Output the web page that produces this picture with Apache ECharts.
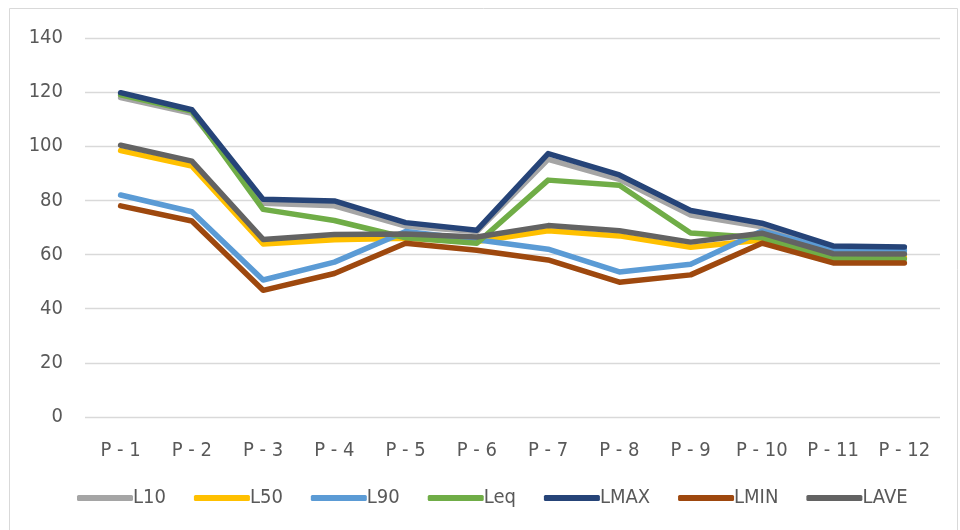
<!DOCTYPE html>
<html>
<head>
<meta charset="utf-8">
<script src="https://cdn.jsdelivr.net/npm/echarts@6/dist/echarts.min.js"></script>
<style>
  html, body { margin: 0; padding: 0; background: #ffffff; }
  #chart { width: 960px; height: 530px; }
</style>
</head>
<body>
<div id="chart"></div>
<script>
// Measurement points along the x axis
var categories = ['P - 1', 'P - 2', 'P - 3', 'P - 4', 'P - 5', 'P - 6', 'P - 7', 'P - 8', 'P - 9', 'P - 10', 'P - 11', 'P - 12'];

// Sound level series (dB)
var L10  = [118, 112.2, 79, 78, 70.5, 68.5, 95.2, 87.8, 74.6, 70.3, 62, 61.8];
var L50  = [98.4, 92.7, 63.9, 65.5, 66, 64.8, 68.8, 66.9, 62.7, 65.4, 59.2, 59];
var L90  = [82, 75.8, 50.6, 57.2, 68.5, 65.5, 62, 53.6, 56.4, 68.7, 61.6, 61.4];
var Leq  = [119, 113, 76.7, 72.6, 66.2, 64.2, 87.5, 85.6, 68, 66.2, 58.6, 58.4];
var LMAX = [119.8, 113.5, 80.4, 79.8, 71.8, 69, 97.3, 89.4, 76.3, 71.6, 63.2, 62.8];
var LMIN = [78, 72.4, 46.8, 53, 64.2, 61.6, 58, 49.8, 52.5, 64.2, 56.9, 56.9];
var LAVE = [100.4, 94.5, 65.6, 67.4, 67.6, 66.5, 70.7, 68.8, 64.6, 67.9, 60.3, 60.2];

// Y axis ticks
var yMin = 0, yMax = 140, yStep = 20;

var seriesDefs = [
  { name: 'L10',  data: L10,  color: '#A5A5A5' },
  { name: 'L50',  data: L50,  color: '#FFC000' },
  { name: 'L90',  data: L90,  color: '#5B9BD5' },
  { name: 'Leq',  data: Leq,  color: '#70AD47' },
  { name: 'LMAX', data: LMAX, color: '#264478' },
  { name: 'LMIN', data: LMIN, color: '#9E480E' },
  { name: 'LAVE', data: LAVE, color: '#636363' }
];

var fontFamily = "'DejaVu Sans Condensed', 'Liberation Sans Narrow', 'DejaVu Sans', sans-serif";

var chart = echarts.init(document.getElementById('chart'), null, { renderer: 'canvas' });

chart.setOption({
  backgroundColor: '#ffffff',
  animation: false,
  textStyle: { fontFamily: fontFamily },
  graphic: [{
    type: 'rect',
    shape: { x: 9.5, y: 8.5, width: 948, height: 530 },
    style: { fill: 'none', stroke: '#d9d9d9', lineWidth: 1 },
    silent: true,
    z: -1
  }],
  grid: { left: 85, right: 20, top: 38, bottom: 113, containLabel: false },
  legend: {
    top: 483,
    left: 72,
    itemWidth: 56,
    itemHeight: 6,
    itemGap: 28,
    textStyle: { color: '#595959', fontSize: 20, fontFamily: fontFamily, padding: [0, 0, 0, -5] },
    data: seriesDefs.map(function (s) {
      return { name: s.name, icon: 'roundRect', itemStyle: { color: s.color } };
    })
  },
  xAxis: {
    type: 'category',
    data: categories,
    boundaryGap: true,
    axisLine: { show: false },
    axisTick: { show: false },
    axisLabel: { color: '#595959', fontSize: 20, margin: 24, fontFamily: fontFamily }
  },
  yAxis: {
    type: 'value',
    min: yMin,
    max: yMax,
    interval: yStep,
    axisLine: { show: false },
    axisTick: { show: false },
    axisLabel: { color: '#595959', fontSize: 20, margin: 22, fontFamily: fontFamily },
    splitLine: { lineStyle: { color: '#d9d9d9', width: 1.3 } }
  },
  series: seriesDefs.map(function (s) {
    return {
      name: s.name,
      type: 'line',
      data: s.data,
      symbol: 'none',
      smooth: false,
      itemStyle: { color: s.color },
      lineStyle: { color: s.color, width: 5.5, cap: 'round', join: 'round' }
    };
  })
});
</script>
</body>
</html>
